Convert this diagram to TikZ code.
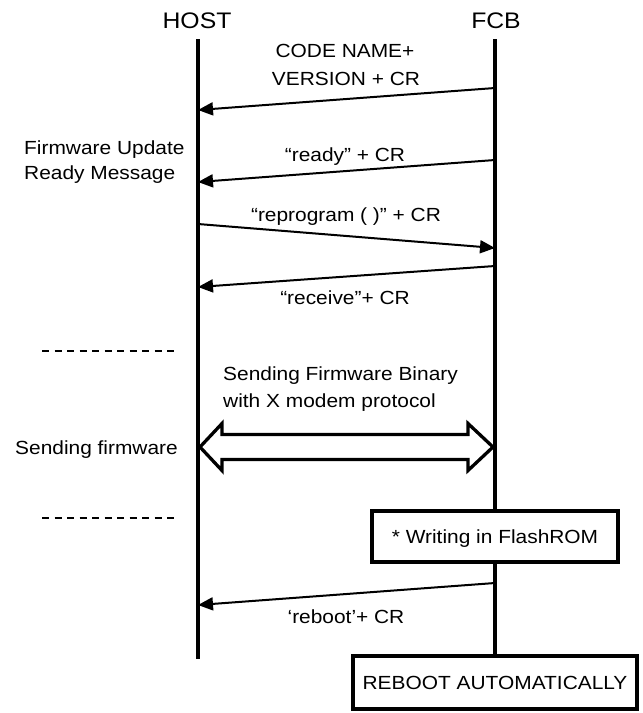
\documentclass[tikz,border=0pt]{standalone}
\usepackage{fontspec}
\setmainfont{Liberation Sans}[FakeStretch=1.1]
\usetikzlibrary{arrows.meta}
\begin{document}
\begin{tikzpicture}[x=1pt,y=-1pt,
  lbl/.style={font=\fontsize{19}{23}\selectfont, inner sep=0pt, anchor=base},
  ttl/.style={font=\fontsize{22.5}{27}\selectfont, inner sep=0pt, anchor=base},
  life/.style={line width=3.5pt},
  msg/.style={line width=2pt, -{Triangle[length=15pt,width=13pt]}},
  sepline/.style={line width=2pt, dash pattern=on 7pt off 5.5pt},
  boxnode/.style={draw, line width=3.8pt, inner sep=0pt, text height=13.6pt, text depth=0pt, font=\fontsize{19}{23}\selectfont},
  bigarrow/.style={line width=3.3pt, line join=miter, fill=white}
]
\useasboundingbox (0,0) rectangle (643,713);

% titles
\node[ttl] (host) at (197,28) {HOST};
\node[ttl] (fcb) at (496,28) {FCB};

% lifelines
\coordinate (htop) at (198,39);
\coordinate (hbot) at (198,659);
\coordinate (ftop) at (495,39);
\node[boxnode, minimum width=246pt, minimum height=51pt] (write) at (495,536.5) {* Writing in FlashROM};
\node[boxnode, minimum width=284pt, minimum height=53pt] (reboot) at (495,682.5) {REBOOT AUTOMATICALLY};
\draw[life] (htop) -- (hbot);
\draw[life] (ftop) -- (write.north);
\draw[life] (write.south) -- (reboot.north);

% messages
\coordinate (f1) at (495,88);  \coordinate (h1) at (198,110);
\coordinate (f2) at (495,160); \coordinate (h2) at (198,182);
\coordinate (h3) at (198,224); \coordinate (f3) at (495,248);
\coordinate (f4) at (495,266); \coordinate (h4) at (198,287);
\coordinate (f5) at (495,583); \coordinate (h5) at (198,605);
\draw[msg] (f1) -- (h1);
\draw[msg] (f2) -- (h2);
\draw[msg] (h3) -- (f3);
\draw[msg] (f4) -- (h4);
\draw[msg] (f5) -- (h5);

% message labels
\node[lbl] (t1a) at (345,57) {CODE NAME+};
\node[lbl] (t1b) at (346,85) {VERSION + CR};
\node[lbl] (t2) at (345,161) {“ready” + CR};
\node[lbl] (t3) at (346,221) {“reprogram ( )” + CR};
\node[lbl] (t4) at (345,304) {“receive”+ CR};
\node[lbl] (t5) at (346,623) {‘reboot’+ CR};

% left notes
\node[lbl, anchor=base west] (fu1) at (24,154) {Firmware Update};
\node[lbl, anchor=base west] (fu2) at (24,179) {Ready Message};
\node[lbl, anchor=base west] (sf) at (15,454) {Sending firmware};

% separators
\coordinate (d1a) at (42,351); \coordinate (d1b) at (179,351);
\coordinate (d2a) at (42,518); \coordinate (d2b) at (179,518);
\draw[sepline] (d1a) -- (d1b);
\draw[sepline] (d2a) -- (d2b);

% binary transfer
\node[lbl, anchor=base west] (s1) at (223,380) {Sending Firmware Binary};
\node[lbl, anchor=base west] (s2) at (223,407) {with X modem protocol};
\coordinate (dl) at (200,447);
\coordinate (dr) at (493,447);
\draw[bigarrow] (dl) -- (222,423.5) -- (222,434.5) -- (468,434.5) -- (468,423.5) -- (dr)
  -- (468,470.5) -- (468,459.5) -- (222,459.5) -- (222,470.5) -- cycle;
\end{tikzpicture}
\end{document}
